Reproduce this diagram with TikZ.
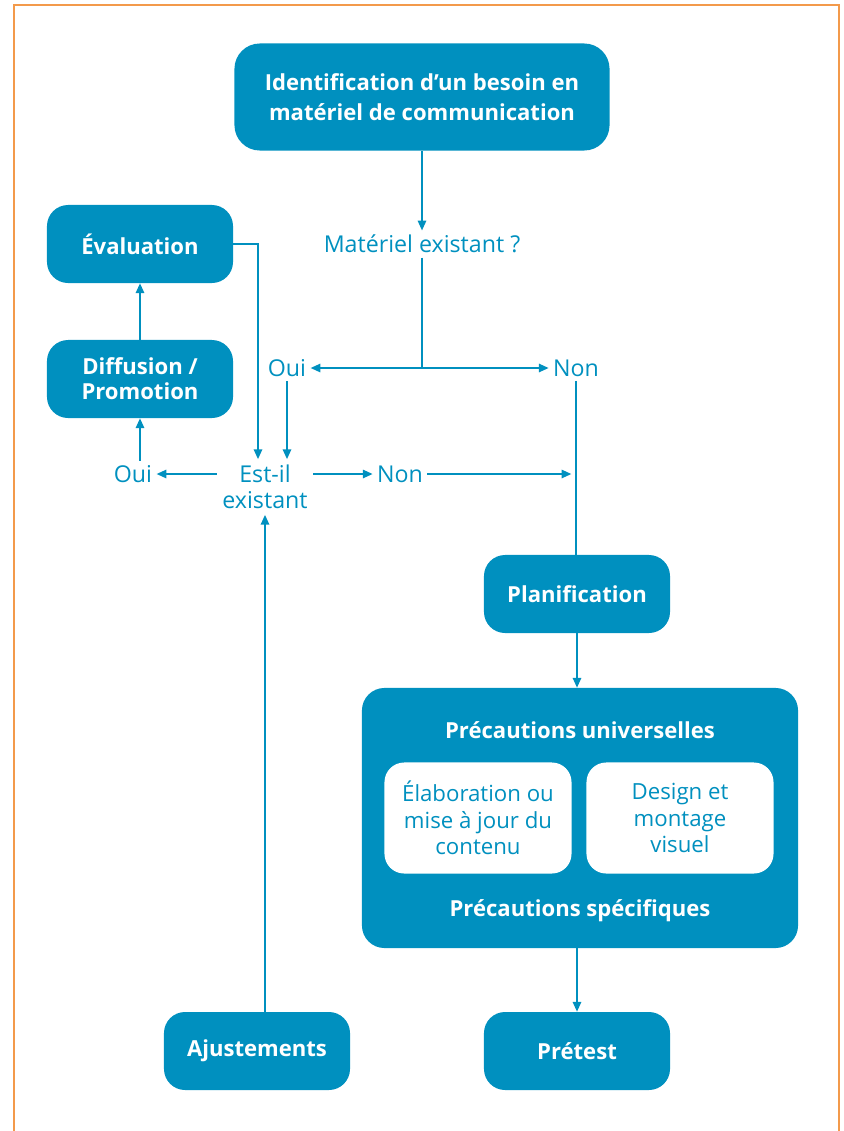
\documentclass[tikz,border=0pt]{standalone}
\usepackage{fontspec}
\setmainfont{Open Sans}
\usetikzlibrary{arrows.meta,calc}
\definecolor{ctblue}{HTML}{0090BF}
\definecolor{ctorange}{HTML}{F39A4B}

\begin{document}
\begin{tikzpicture}[x=0.025cm, y=-0.025cm,
    box/.style={rectangle, fill=ctblue, text=white, rounded corners=15pt, minimum width=4.65cm, minimum height=1.95cm, align=center, font=\fontsize{15.7}{18}\selectfont\bfseries},
    whitebox/.style={rectangle, fill=white, text=ctblue, rounded corners=14pt, minimum width=4.675cm, minimum height=2.775cm, align=center, font=\fontsize{15.8}{18.8}\selectfont},
    lbl/.style={text=ctblue, inner sep=3pt, align=center, font=\fontsize{16.5}{18.5}\selectfont},
    link/.style={draw=ctblue, line width=1.2pt},
    arr/.style={link, -{Triangle[length=7pt,width=6pt]}}]
    \useasboundingbox (0,0) rectangle (843,1131);
    \draw[ctorange, line width=1.8pt] (14,1131) -- (14,5) -- (839,5) -- (839,1131);

    % Top of the chart
    \node[box, minimum width=9.375cm, minimum height=2.675cm, rounded corners=18pt, font=\fontsize{15.7}{21}\selectfont\bfseries] (ident) at (422,97)
        {Identification d'un besoin en\\mat\'eriel de communication};
    \node[lbl] (question) at (422,244) {Mat\'eriel existant ?};
    \coordinate (fork) at (422,368);
    \node[lbl] (oui1) at (287,368) {Oui};
    \node[lbl] (non1) at (576,368) {Non};

    \draw[arr] (ident) -- (question);
    \draw[link] (question) -- (fork);
    \draw[arr] (fork) -- (oui1);
    \draw[arr] (fork) -- (non1);

    % Left branch
    \node[box] (eval) at (140,244) {\'Evaluation};
    \node[box] (diffusion) at (140,379) {Diffusion /\\Promotion};
    \node[lbl, inner sep=4pt] (est) at (265,487) {Est-il\\existant};
    \node[lbl] (oui2) at (133,474) {Oui};
    \node[lbl] (non2) at (400,474) {Non};
    \node[box] (ajust) at (257,1051) {Ajustements};

    \draw[arr] (eval.east) -| ($(est.north)+(-7,0)$);
    \draw[arr] (oui1) -- (oui1 |- est.north);
    \draw[arr] (oui2 -| est.west) -- (oui2);
    \draw[arr] (oui2.north -| diffusion.south) -- (diffusion.south);
    \draw[arr] (diffusion) -- (eval);
    \draw[arr] (oui2 -| est.east) -- (non2);
    \draw[arr] (ajust.north -| est.south) -- (est.south);

    % Right branch
    \node[box] (plan) at (577,594) {Planification};
    \node[box, minimum width=10.9cm, minimum height=6.5cm, rounded corners=16pt] (precaution) at (580,818) {};
    \node[text=white, font=\fontsize{15.7}{18}\selectfont\bfseries] (univ) at (580,730) {Pr\'ecautions universelles};
    \node[whitebox] (elab) at (478,818) {\'Elaboration ou\\mise \`a jour du\\contenu};
    \node[whitebox] (design) at (680,818) {Design et\\montage\\visuel};
    \node[text=white, font=\fontsize{15.7}{18}\selectfont\bfseries] (spec) at (580,911) {Pr\'ecautions sp\'ecifiques};
    \node[box] (pretest) at (577,1051) {Pr\'etest};

    \draw[link] (non1) -- (non1 |- plan.north);
    \draw[arr, shorten >=4pt] (non2) -- (non2 -| plan.north);
    \draw[arr] (plan.south) -- (plan.south |- precaution.north);
    \draw[arr] (plan.south |- precaution.south) -- (pretest.north);
\end{tikzpicture}
\end{document}
